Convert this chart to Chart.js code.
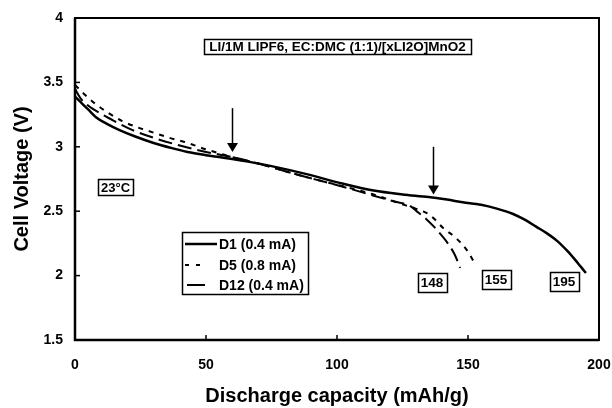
<!DOCTYPE html>
<html><head><meta charset="utf-8">
<script src="https://cdn.jsdelivr.net/npm/chart.js@4"></script>
<style>html,body{margin:0;padding:0;background:#fff;} #wrap{width:612px;height:408px;}</style>
</head><body><div id="wrap"><canvas id="c" width="612" height="408"></canvas></div>
<script>
// ---- data ----
const seriesLabels = ['D1 (0.4 mA)', 'D5 (0.8 mA)', 'D12 (0.4 mA)'];
const d1Capacity = [0, 2, 5, 8, 12, 17, 23, 30, 37, 43, 50, 55, 60, 66, 75, 88, 101, 114, 125, 135, 142, 148, 155, 161, 167, 172, 176, 180, 184, 188, 191, 193, 195];
const d1Voltage  = [3.39, 3.35, 3.29, 3.23, 3.18, 3.13, 3.08, 3.03, 2.99, 2.96, 2.935, 2.92, 2.905, 2.885, 2.85, 2.79, 2.72, 2.66, 2.63, 2.61, 2.59, 2.57, 2.55, 2.52, 2.48, 2.43, 2.38, 2.33, 2.27, 2.19, 2.12, 2.07, 2.02];
const d5Capacity = [0, 2, 4, 8, 13, 18, 24, 30, 36, 43, 50, 55, 60, 70, 82, 92, 104, 114, 124, 130, 135.5, 140.5, 145.5, 149.5, 152.7];
const d5Voltage  = [3.48, 3.44, 3.40, 3.33, 3.26, 3.20, 3.15, 3.11, 3.07, 3.03, 2.98, 2.95, 2.92, 2.87, 2.80, 2.745, 2.685, 2.63, 2.56, 2.52, 2.47, 2.37, 2.29, 2.20, 2.09];
const d12Capacity = [0, 2, 5, 10, 15, 22, 30, 40, 50, 60, 70, 82, 92, 104, 114, 122, 128, 131, 134, 137, 140, 143, 145, 147];
const d12Voltage  = [3.45, 3.38, 3.32, 3.255, 3.20, 3.13, 3.07, 3.01, 2.96, 2.92, 2.87, 2.80, 2.745, 2.68, 2.62, 2.575, 2.54, 2.49, 2.44, 2.38, 2.31, 2.23, 2.16, 2.06];
const xTicks = [0, 50, 100, 150, 200];
const yTicks = [1.5, 2, 2.5, 3, 3.5, 4];
const endCapacityLabels = ['148', '155', '195'];
const arrowCapacities = [60, 136.5];
const arrowTopVoltages = [3.30, 3.00];
const arrowTipVoltages = [2.96, 2.63];
const cellNote = 'LI/1M LIPF6, EC:DMC (1:1)/[xLI2O]MnO2';
const tempNote = '23°C';

// ---- annotation placement (data units) ----
const endLabelPos = [[136.3, 1.95], [160.7, 1.97], [186.6, 1.955]];
const notePos = [100.2, 3.778];
const tempPos = [15.5, 2.686];
const legendPos = [40.8, 2.335];

const FONT = '"Liberation Sans", Arial, Helvetica, sans-serif';
function pts(xs, ys) { return xs.map((x, i) => ({x: x, y: ys[i]})); }

function boxText(ctx, cx, cy, text, size, padX, h, lw) {
  ctx.font = 'bold ' + size + 'px ' + FONT;
  const w = ctx.measureText(text).width + 2 * padX;
  ctx.lineWidth = lw;
  ctx.strokeRect(Math.round(cx - w / 2) + 0.5, Math.round(cy - h / 2) + 0.5, Math.round(w), h);
  ctx.textAlign = 'center'; ctx.textBaseline = 'middle';
  ctx.fillText(text, cx, cy + 1);
}

const decor = {
  id: 'decor',
  beforeDraw(chart) {
    const ctx = chart.ctx; ctx.save(); ctx.fillStyle = '#fff';
    ctx.fillRect(0, 0, chart.width, chart.height); ctx.restore();
  },
  afterDatasetsDraw(chart) {
    const {ctx, chartArea: a, scales: {x, y}} = chart;
    ctx.save();
    ctx.strokeStyle = '#000'; ctx.fillStyle = '#000';
    // frame
    ctx.lineWidth = 2;
    ctx.strokeRect(a.left, a.top, a.right - a.left, a.bottom - a.top);
    ctx.lineWidth = 2.5;
    ctx.beginPath(); ctx.moveTo(a.left, a.top); ctx.lineTo(a.left, a.bottom); ctx.lineTo(a.right, a.bottom); ctx.stroke();
    // inward ticks
    ctx.lineWidth = 1.5;
    yTicks.forEach(v => { const py = y.getPixelForValue(v); ctx.beginPath(); ctx.moveTo(a.left, py); ctx.lineTo(a.left + 5, py); ctx.stroke(); });
    xTicks.forEach(v => { const px = x.getPixelForValue(v); ctx.beginPath(); ctx.moveTo(px, a.bottom); ctx.lineTo(px, a.bottom - 5); ctx.stroke(); });
    // arrows
    arrowCapacities.forEach((c, i) => {
      const px = Math.round(x.getPixelForValue(c)) + 0.5;
      const top = y.getPixelForValue(arrowTopVoltages[i]);
      const tip = y.getPixelForValue(arrowTipVoltages[i]);
      ctx.lineWidth = 1.5;
      ctx.beginPath(); ctx.moveTo(px, top); ctx.lineTo(px, tip - 6); ctx.stroke();
      ctx.beginPath(); ctx.moveTo(px - 5.5, tip - 9); ctx.lineTo(px + 5.5, tip - 9); ctx.lineTo(px, tip); ctx.closePath(); ctx.fill();
    });
    // note boxes
    boxText(ctx, x.getPixelForValue(notePos[0]), y.getPixelForValue(notePos[1]), cellNote, 13.5, 5, 15, 1.5);
    boxText(ctx, x.getPixelForValue(tempPos[0]), y.getPixelForValue(tempPos[1]), tempNote, 13, 3, 16, 1.5);
    endCapacityLabels.forEach((t, i) => {
      boxText(ctx, x.getPixelForValue(endLabelPos[i][0]), y.getPixelForValue(endLabelPos[i][1]), t, 13.5, 3, 19, 1.5);
    });
    // legend
    const lx = Math.round(x.getPixelForValue(legendPos[0])), ly = Math.round(y.getPixelForValue(legendPos[1]));
    ctx.lineWidth = 1.5;
    ctx.strokeRect(lx + 0.5, ly + 0.5, 126, 62);
    const rows = [12, 33, 53];
    chart.data.datasets.forEach((ds, i) => {
      const ry = ly + rows[i];
      ctx.lineWidth = ds.borderWidth;
      ctx.beginPath();
      if (i === 0) { ctx.moveTo(lx + 3, ry); ctx.lineTo(lx + 35, ry); }
      else if (i === 1) { ctx.moveTo(lx + 3, ry); ctx.lineTo(lx + 7, ry); ctx.moveTo(lx + 14, ry); ctx.lineTo(lx + 18, ry); }
      else { ctx.moveTo(lx + 5, ry); ctx.lineTo(lx + 23, ry); }
      ctx.stroke();
      ctx.font = 'bold 14px ' + FONT; ctx.textAlign = 'left'; ctx.textBaseline = 'middle';
      ctx.fillText(ds.label, lx + 37, ry + 1);
    });
    ctx.restore();
  }
};

const common = {borderColor: '#000', backgroundColor: '#000', pointRadius: 0, fill: false, cubicInterpolationMode: 'monotone'};

new Chart(document.getElementById('c'), {
  type: 'line',
  data: {
    datasets: [
      Object.assign({label: seriesLabels[0], data: pts(d1Capacity, d1Voltage), borderWidth: 2.5}, common),
      Object.assign({label: seriesLabels[1], data: pts(d5Capacity, d5Voltage), borderWidth: 2, borderDash: [5, 6]}, common),
      Object.assign({label: seriesLabels[2], data: pts(d12Capacity, d12Voltage), borderWidth: 2, borderDash: [14, 6]}, common)
    ]
  },
  options: {
    responsive: false, animation: false, devicePixelRatio: 1,
    layout: {padding: {top: 18, right: 0, left: 0, bottom: 0}},
    plugins: {legend: {display: false}, tooltip: {enabled: false}},
    scales: {
      x: {
        type: 'linear', min: 0, max: 200,
        afterBuildTicks: s => { s.ticks = xTicks.map(v => ({value: v})); },
        grid: {display: false, drawTicks: false}, border: {display: false},
        ticks: {padding: 17, color: '#000', autoSkip: false, maxRotation: 0, callback: v => String(v),
                font: {family: FONT, size: 14, weight: 'bold'}},
        title: {display: true, text: 'Discharge capacity (mAh/g)', color: '#000',
                font: {family: FONT, size: 20, weight: 'bold'}, padding: {top: 0, bottom: 0}},
        afterFit: s => { s.height = 68; s.paddingLeft = 0; s.paddingRight = 13; }
      },
      y: {
        type: 'linear', min: 1.5, max: 4,
        afterBuildTicks: s => { s.ticks = yTicks.map(v => ({value: v})); },
        grid: {display: false, drawTicks: false}, border: {display: false},
        ticks: {padding: 12, color: '#000', callback: v => String(v),
                font: {family: FONT, size: 14, weight: 'bold'}},
        title: {display: true, text: 'Cell Voltage (V)', color: '#000',
                font: {family: FONT, size: 20, weight: 'bold'}, padding: {top: 10, bottom: 0}},
        afterFit: s => { s.width = 75; s.paddingTop = 0; s.paddingBottom = 0; }
      }
    }
  },
  plugins: [decor]
});
</script>
</body></html>
